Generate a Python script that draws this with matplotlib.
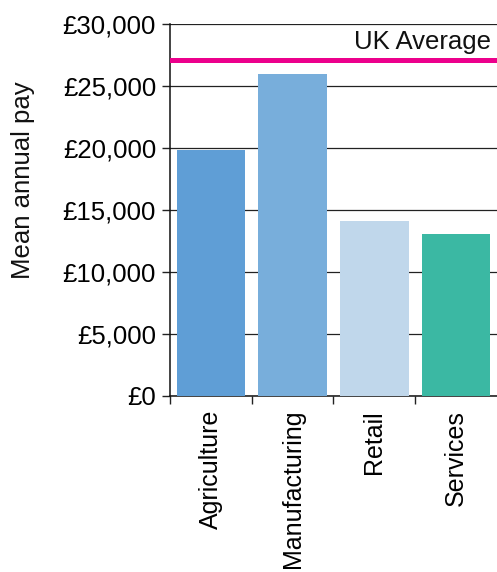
import matplotlib.pyplot as plt
from matplotlib.ticker import FuncFormatter

plt.rcParams['font.family'] = ['Liberation Sans', 'DejaVu Sans']

# mean annual pay by sector
sectors = ['Agriculture', 'Manufacturing', 'Retail', 'Services']
mean_pay = [19800, 26000, 14100, 13100]
uk_average = 27100
bar_colors = ['#5f9ed6', '#78aedb', '#c0d7eb', '#3bb8a3']

fig = plt.figure(figsize=(4.97, 5.72), dpi=100)
ax = fig.add_axes([0.342, 0.3077, 0.658, 0.6503])

x = list(range(len(sectors)))
ax.bar(x, mean_pay, width=0.84, color=bar_colors, zorder=3)
ax.axhline(uk_average, color='#ec008c', lw=3.6, zorder=4)
ax.text(3.43, uk_average + 500, 'UK Average', ha='right', va='bottom',
        fontsize=18.5, color='#111111')

ax.set_xlim(-0.5, 3.5)
ax.set_ylim(0, 30000)
ax.set_yticks(range(0, 30001, 5000))
ax.yaxis.set_major_formatter(FuncFormatter(lambda v, p: '£{:,.0f}'.format(v)))
ax.grid(axis='y', color='#222222', lw=0.9, zorder=1)
ax.set_axisbelow(True)

# labels at category centres, tick marks at the boundaries
ax.set_xticks(x)
ax.set_xticklabels(sectors, rotation=90, fontsize=18)
ax.set_xticks([-0.5, 0.5, 1.5, 2.5], minor=True)
ax.tick_params(axis='x', which='major', length=0, pad=10)
ax.tick_params(axis='x', which='minor', length=6, width=1, color='#222222')
ax.tick_params(axis='y', length=6, width=1, labelsize=18.5, pad=4,
               color='#222222')

fig.text(23 / 497, 1 - 180 / 572, 'Mean annual pay', rotation=90,
         ha='center', va='center', fontsize=18.5, color='#111111')

for side in ['top', 'right']:
    ax.spines[side].set_visible(False)
for side in ['left', 'bottom']:
    ax.spines[side].set_color('#111111')
    ax.spines[side].set_linewidth(1.1)

fig.savefig('out.png', dpi=100)
